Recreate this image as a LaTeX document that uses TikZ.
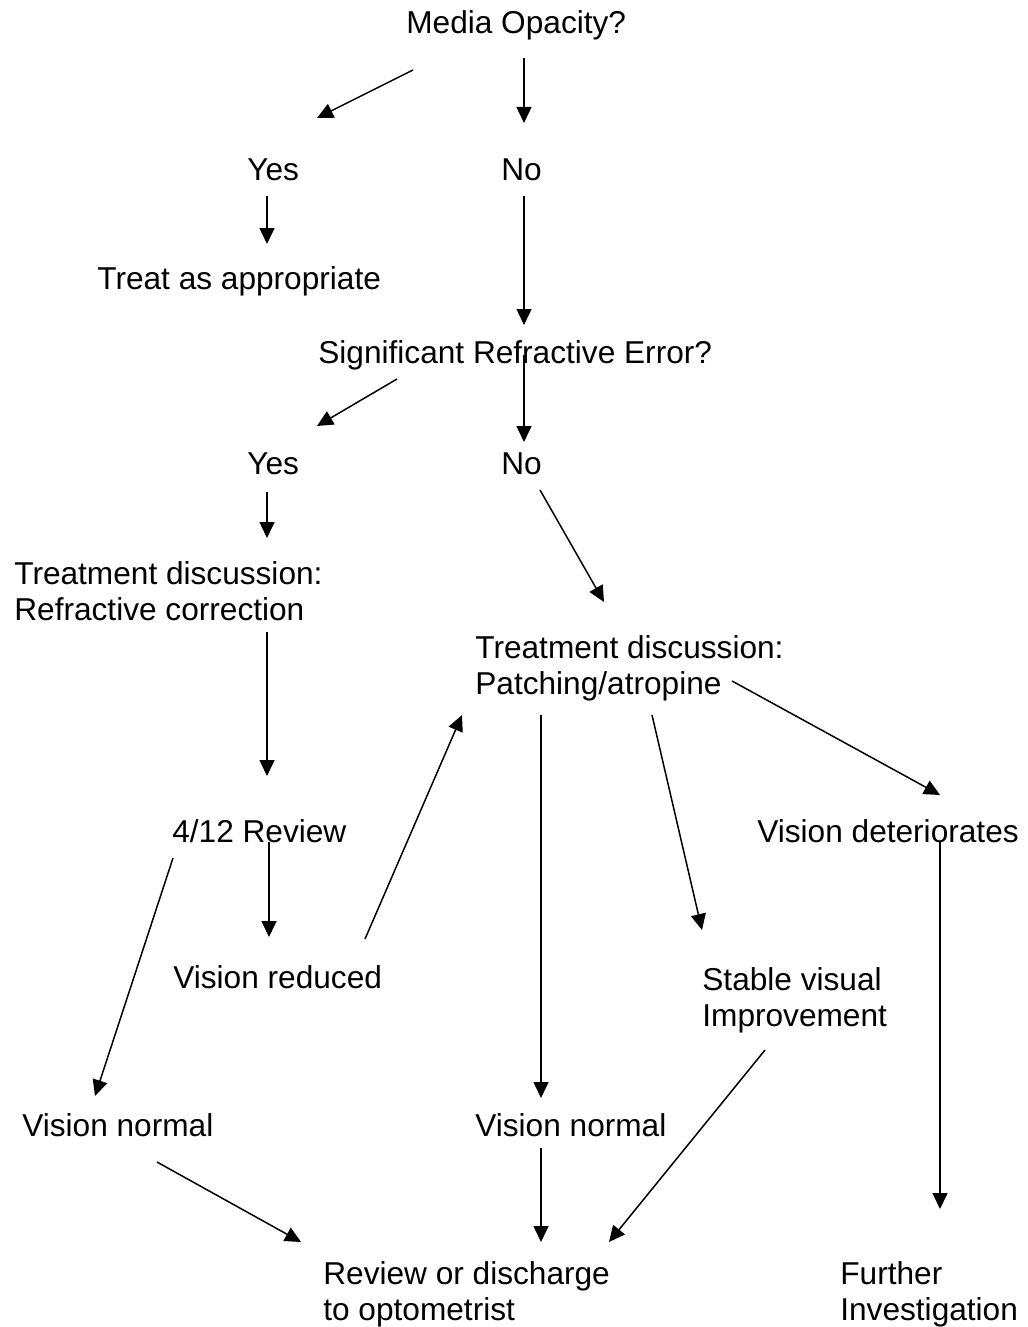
\documentclass[tikz,border=0pt]{standalone}
\usepackage{fontspec}
\setmainfont{Liberation Sans}
\usetikzlibrary{positioning, calc, arrows.meta}

\begin{document}
\begin{tikzpicture}[
        x=0.02cm, y=-0.02cm,
        lbl/.style={anchor=base west, inner sep=0pt, align=left, font=\fontsize{18}{20}\selectfont},
        arr/.style={line width=0.85pt, -{Triangle[length=0.32cm, width=0.3cm]}},
    ]
        \useasboundingbox (0,0) rectangle (1027,1327);
        % question nodes
        \node[lbl] (MEDIA) at (406,34) {Media Opacity?};
        \node[lbl] (YES1) at (247,181) {Yes};
        \node[lbl] (NO1) at (501,181) {No};
        \node[lbl] (TREAT) at (97,290) {Treat as appropriate};
        \node[lbl] (REFR) at (318,363) {Significant Refractive Error?};
        \node[lbl] (YES2) at (247,474) {Yes};
        \node[lbl] (NO2) at (501,474) {No};
        % treatment and outcomes (base = last line)
        \node[lbl] (SPECS) at (14,620) {Treatment discussion:\\Refractive correction};
        \node[lbl] (PATCH) at (475,694) {Treatment discussion:\\Patching/atropine};
        \node[lbl] (REVIEW) at (172,842) {4/12 Review};
        \node[lbl] (WORSE) at (757,842) {Vision deteriorates};
        \node[lbl] (REDUCED) at (173,988) {Vision reduced};
        \node[lbl] (STABLE) at (702,1026) {Stable visual\\Improvement};
        \node[lbl] (NORMA) at (22,1136) {Vision normal};
        \node[lbl] (NORMB) at (475,1136) {Vision normal};
        \node[lbl] (DISCH) at (323,1320) {Review or discharge\\to optometrist};
        \node[lbl] (FURTHER) at (840,1320) {Further\\Investigation};

        \draw[arr] ([shift={(7,36)}]MEDIA.base west) -- ([shift={(70,-63)}]YES1.base west);
        \draw[arr] ([shift={(118,24)}]MEDIA.base west) -- ([shift={(23,-58)}]NO1.base west);
        \draw[arr] ([shift={(20,15)}]YES1.base west) -- ([shift={(170,-46)}]TREAT.base west);
        \draw[arr] ([shift={(23,15)}]NO1.base west) -- ([shift={(206,-38)}]REFR.base west);
        \draw[arr] ([shift={(79,16)}]REFR.base west) -- ([shift={(70,-48)}]YES2.base west);
        \draw[arr] ([shift={(206,-8)}]REFR.base west) -- ([shift={(23,-32)}]NO2.base west);
        \draw[arr] ([shift={(20,18)}]YES2.base west) -- ([shift={(253,-82)}]SPECS.base west);
        \draw[arr] ([shift={(39,16)}]NO2.base west) -- ([shift={(129,-92)}]PATCH.base west);
        \draw[arr] ([shift={(253,12)}]SPECS.base west) -- ([shift={(95,-66)}]REVIEW.base west);
        \draw[arr] ([shift={(97,0)}]REVIEW.base west) -- ([shift={(96,-51)}]REDUCED.base west);
        \draw[arr] ([shift={(1,16)}]REVIEW.base west) -- ([shift={(73,-40)}]NORMA.base west);
        \draw[arr] ([shift={(192,-49)}]REDUCED.base west) -- ([shift={(-13,21)}]PATCH.base west);
        \draw[arr] ([shift={(66,21)}]PATCH.base west) -- ([shift={(66,-38)}]NORMB.base west);
        \draw[arr] ([shift={(177,21)}]PATCH.base west) -- ([shift={(0,-96)}]STABLE.base west);
        \draw[arr] ([shift={(257,-13)}]PATCH.base west) -- ([shift={(183,-47)}]WORSE.base west);
        \draw[arr] ([shift={(183,0)}]WORSE.base west) -- ([shift={(100,-111)}]FURTHER.base west);
        \draw[arr] ([shift={(135,26)}]NORMA.base west) -- ([shift={(-22,-78)}]DISCH.base west);
        \draw[arr] ([shift={(66,12)}]NORMB.base west) -- ([shift={(218,-78)}]DISCH.base west);
        \draw[arr] ([shift={(63,24)}]STABLE.base west) -- ([shift={(286,-78)}]DISCH.base west);
    \end{tikzpicture}
\end{document}
